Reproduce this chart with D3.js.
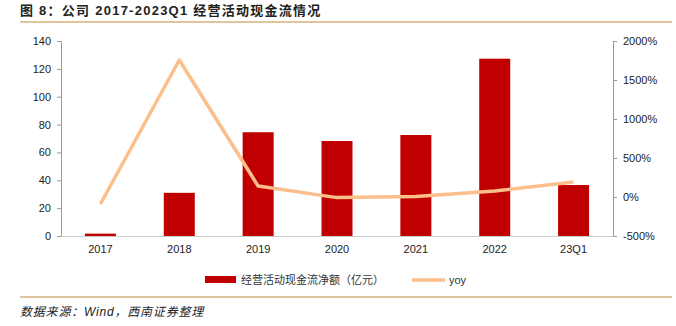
<!DOCTYPE html>
<html>
<head>
<meta charset="utf-8">
<script src="https://cdn.jsdelivr.net/npm/d3@7"></script>
<style>
  body { margin: 0; background: #fff; }
  svg { display: block; font-family: "Liberation Sans", Arial, "Noto Sans CJK SC", sans-serif; }
</style>
</head>
<body>
<div id="chart"></div>
<script>
// operating cash flow (亿元) and yoy (%)
const years = ["2017", "2018", "2019", "2020", "2021", "2022", "23Q1"];
const cashFlow = [1.7, 31, 74.5, 68.2, 72.5, 127.3, 36.6];
const yoy = [-90, 1756, 140, -8, 6, 76, 192];
const leftTicks = [0, 20, 40, 60, 80, 100, 120, 140];
const rightTicks = [-500, 0, 500, 1000, 1500, 2000];

const W = 676, H = 326;
const margin = { top: 41, right: 63, bottom: 90, left: 61 };
const plotW = W - margin.left - margin.right;
const plotH = H - margin.top - margin.bottom;

const svg = d3.select("#chart").append("svg")
  .attr("width", W)
  .attr("height", H);

// title and rules
svg.append("text")
  .attr("x", 20).attr("y", 15)
  .style("font-size", "13px").style("font-weight", "bold")
  .style("letter-spacing", "1.25px")
  .style("font-family", "'Liberation Sans', 'Noto Sans CJK SC', sans-serif")
  .attr("fill", "#222")
  .text("图 8：公司 2017-2023Q1 经营活动现金流情况");

svg.append("line")
  .attr("x1", 20).attr("x2", 672).attr("y1", 22).attr("y2", 22)
  .attr("stroke", "#d5b27c").attr("stroke-width", 1.5);
svg.append("line")
  .attr("x1", 20).attr("x2", 672).attr("y1", 297).attr("y2", 297)
  .attr("stroke", "#d5b27c").attr("stroke-width", 1.5);

svg.append("text")
  .attr("x", 20).attr("y", 316)
  .style("font-size", "12px").style("font-style", "italic")
  .style("letter-spacing", "0.8px")
  .attr("fill", "#222")
  .text("数据来源：Wind，西南证券整理");

const g = svg.append("g")
  .attr("transform", `translate(${margin.left}, ${margin.top})`);

const x = d3.scaleBand().domain(years).range([0, plotW]);
const yL = d3.scaleLinear().domain([0, 140]).range([plotH, 0]);
const yR = d3.scaleLinear().domain([-500, 2000]).range([plotH, 0]);

// left axis
const axL = g.append("g")
  .call(d3.axisLeft(yL).tickValues(leftTicks).tickSize(4).tickPadding(6));
// right axis
const axR = g.append("g")
  .attr("transform", `translate(${plotW}, 0)`)
  .call(d3.axisRight(yR).tickValues(rightTicks).tickSize(4).tickPadding(6)
    .tickFormat(d => d + "%"));
// bottom axis
const axB = g.append("g")
  .attr("transform", `translate(0, ${plotH})`)
  .call(d3.axisBottom(x).tickSize(0).tickPadding(9));

[axL, axR, axB].forEach(a => {
  a.selectAll("path, line").attr("stroke", "#999");
  a.selectAll("text").attr("fill", "#222").style("font-size", "11px");
  a.select(".domain").attr("stroke", "#999");
});
axB.select(".domain").attr("stroke", "#ccc");

// bars
const barW = 31;
g.selectAll("rect.bar")
  .data(cashFlow)
  .enter().append("rect")
  .attr("class", "bar")
  .attr("x", (d, i) => x(years[i]) + x.bandwidth() / 2 - barW / 2)
  .attr("y", d => yL(d))
  .attr("width", barW)
  .attr("height", d => plotH - yL(d))
  .attr("fill", "#c00000");

// yoy line
const line = d3.line()
  .x((d, i) => x(years[i]) + x.bandwidth() / 2)
  .y(d => yR(d));
g.append("path")
  .datum(yoy)
  .attr("d", line)
  .attr("fill", "none")
  .attr("stroke", "#fbbf8c")
  .attr("stroke-width", 3.5)
  .attr("stroke-linejoin", "round");

// legend
const lg = svg.append("g").attr("transform", "translate(0, 280)");
lg.append("rect")
  .attr("x", 205).attr("y", -4).attr("width", 31).attr("height", 7)
  .attr("fill", "#c00000");
lg.append("text")
  .attr("x", 241).attr("y", 4)
  .style("font-size", "11px").attr("fill", "#333")
  .text("经营活动现金流净额（亿元）");
lg.append("line")
  .attr("x1", 412).attr("x2", 445).attr("y1", 0).attr("y2", 0)
  .attr("stroke", "#fbbf8c").attr("stroke-width", 3.5);
lg.append("text")
  .attr("x", 449).attr("y", 4)
  .style("font-size", "11px").attr("fill", "#333")
  .text("yoy");
</script>
</body>
</html>
